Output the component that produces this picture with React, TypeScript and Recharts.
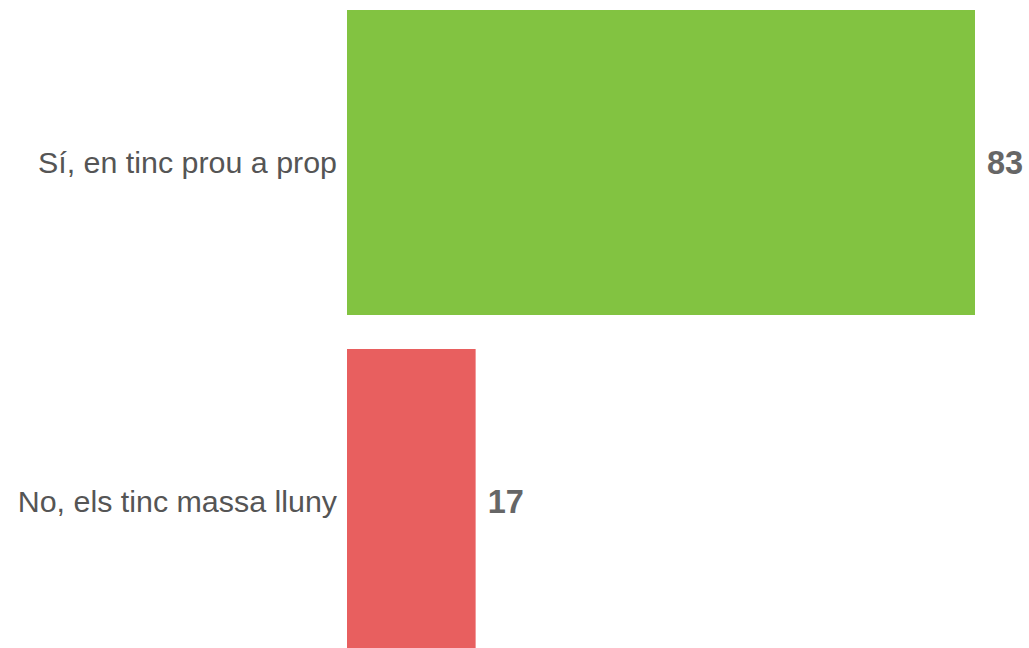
import { BarChart, Bar, XAxis, YAxis, Cell, LabelList } from "recharts";

const categories = ["Sí, en tinc prou a prop", "No, els tinc massa lluny"];
const values = [83, 17];
const colors = ["#82c341", "#e85f5f"];

const data = categories.map((name, i) => ({ name, value: values[i] }));

export default function App() {
  return (
    <div
      style={{
        position: "absolute",
        left: 0,
        top: 0,
        width: 1029,
        height: 648,
        overflow: "hidden",
        background: "#fff",
        fontFamily: "Arial, 'Liberation Sans', sans-serif",
      }}
    >
      <div style={{ position: "absolute", left: 0, top: -7 }}>
        <BarChart
          width={1029}
          height={678}
          data={data}
          layout="vertical"
          barCategoryGap={17}
          margin={{ top: 0, right: 54, bottom: 0, left: 0 }}
        >
          <XAxis type="number" domain={[0, 83]} hide />
          <YAxis
            type="category"
            dataKey="name"
            width={347}
            axisLine={false}
            tickLine={false}
            tickSize={0}
            tickMargin={10}
            tick={{ fontSize: 30.4, fill: "#555555" }}
          />
          <Bar dataKey="value" isAnimationActive={false}>
            {data.map((d, i) => (
              <Cell key={d.name} fill={colors[i]} />
            ))}
            <LabelList
              dataKey="value"
              position="right"
              offset={12}
              style={{ fontSize: 32.5, fontWeight: "bold", fill: "#666666" }}
            />
          </Bar>
        </BarChart>
      </div>
    </div>
  );
}
